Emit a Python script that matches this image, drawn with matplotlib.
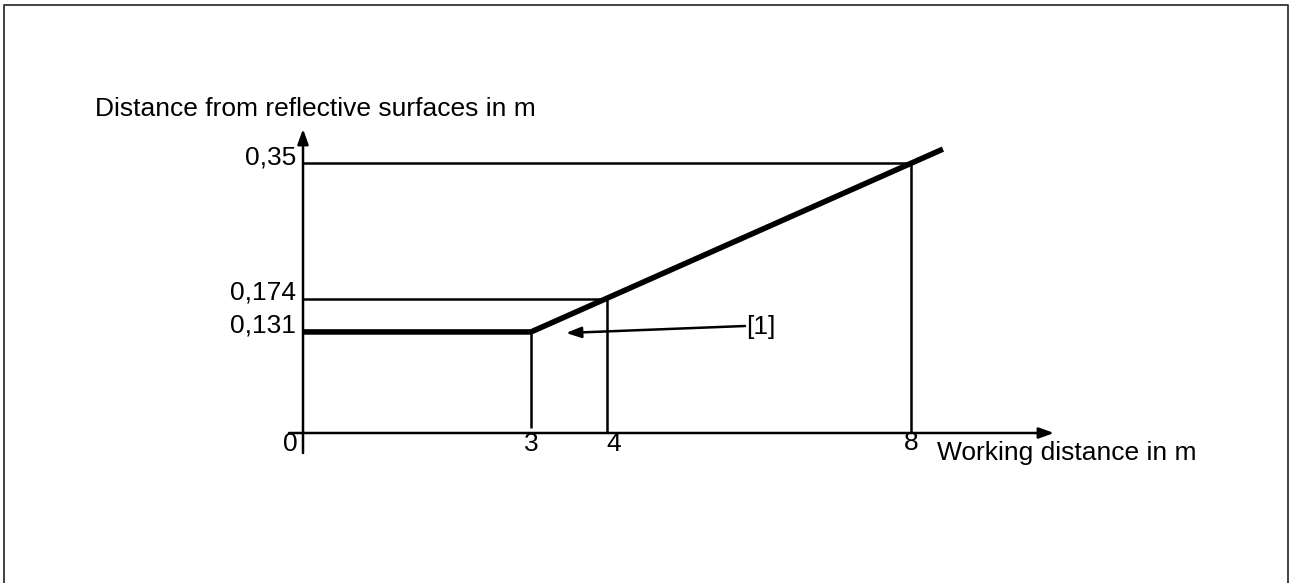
import matplotlib
matplotlib.use("Agg")
import matplotlib.pyplot as plt
from matplotlib.lines import Line2D

plt.rcParams['font.family'] = ['Liberation Sans', 'DejaVu Sans']

# Data
curve_x = [0, 3, 8.42]
curve_y = [0.131, 0.131, 0.368]
mark_x = [3, 4, 8]
mark_y = [0.131, 0.174, 0.35]
x_tick_labels = ["3", "4", "8"]
y_tick_labels = ["0,131", "0,174", "0,35"]
x_label = "Working distance in m"
y_label = "Distance from reflective surfaces in m"
note_label = "[1]"

W, H = 1290, 583
fig = plt.figure(figsize=(W / 100, H / 100), dpi=100)
ax = fig.add_axes([0, 0, 1, 1])
ax.axis('off')

# pixel mapping: x=0 -> px 303, 76 px/unit; y=0 -> py 433, 771.4 px/unit
px0, sx = 303, 76.0
py0, sy = 433, 771.4
ax.set_xlim((0 - px0) / sx, (W - px0) / sx)
ax.set_ylim((py0 - H) / sy, (py0 - 0) / sy)

def X(px):
    return (px - px0) / sx

def Y(py):
    return (py0 - py) / sy

lw_thin = 1.8
c = 'black'
head = '-|>,head_length=0.5,head_width=0.18'

# axes with arrows
ax.annotate("", xy=(X(1054), 0), xytext=(X(289), 0),
            arrowprops=dict(arrowstyle=head, color=c, lw=lw_thin,
                            mutation_scale=18, shrinkA=0, shrinkB=0))
ax.annotate("", xy=(0, Y(129)), xytext=(0, Y(453)),
            arrowprops=dict(arrowstyle=head, color=c, lw=lw_thin,
                            mutation_scale=18, shrinkA=0, shrinkB=0))

# reference lines
ax.plot([mark_x[0], mark_x[0]], [mark_y[0], Y(428)], color=c, lw=lw_thin, solid_capstyle='butt')
for xv, yv in zip(mark_x[1:], mark_y[1:]):
    ax.plot([xv, xv], [0, yv], color=c, lw=lw_thin, solid_capstyle='butt')
    ax.plot([0, xv], [yv, yv], color=c, lw=lw_thin, solid_capstyle='butt')

# main curve
ax.plot(curve_x, curve_y, color=c, lw=4.0, solid_capstyle='butt', solid_joinstyle='miter')

fs = 19
# x tick labels
ax.text(X(290), Y(444), "0", ha='center', va='center', fontsize=fs)
ax.text(mark_x[0], Y(444), x_tick_labels[0], ha='center', va='center', fontsize=fs)
ax.text(mark_x[1] + 0.09, Y(444), x_tick_labels[1], ha='center', va='center', fontsize=fs)
ax.text(mark_x[2], Y(443), x_tick_labels[2], ha='center', va='center', fontsize=fs)
ax.text(X(937), Y(453), x_label, ha='left', va='center', fontsize=fs)

# y tick labels
for yv, lab in zip(mark_y, y_tick_labels):
    ax.text(X(296), yv + 6 / sy, lab, ha='right', va='center', fontsize=fs)
ax.text(X(95), Y(109), y_label, ha='left', va='center', fontsize=fs)

# annotation [1]
ax.annotate("", xy=(X(566), Y(333)), xytext=(X(745), Y(326)),
            arrowprops=dict(arrowstyle=head, color=c, lw=lw_thin,
                            mutation_scale=18, shrinkA=0, shrinkB=0))
ax.text(X(746), Y(327), note_label, ha='left', va='center', fontsize=fs)

# border
border = Line2D([3.5 / W, 3.5 / W, 1287.5 / W, 1287.5 / W],
                [0, 1 - 4.5 / H, 1 - 4.5 / H, 0],
                transform=fig.transFigure, color='#333333', lw=1.3)
fig.add_artist(border)

fig.savefig("out.png", dpi=100)
